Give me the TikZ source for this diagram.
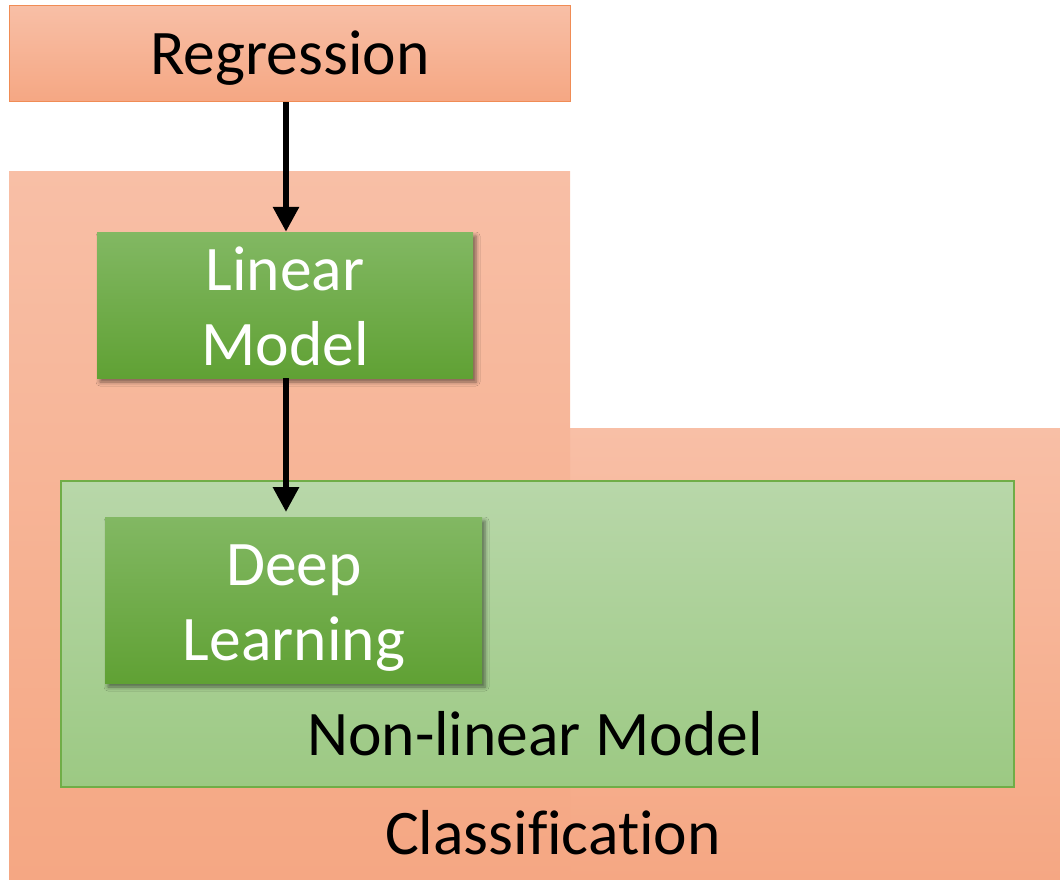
\documentclass[tikz,border=0pt]{standalone}
\usepackage{fontspec}
\setmainfont[Ligatures=NoCommon]{Carlito}
\usetikzlibrary{arrows.meta,shadows.blur}
\definecolor{peachtop}{RGB}{248,191,166}
\definecolor{peachbot}{RGB}{245,167,131}
\definecolor{peachline}{RGB}{240,140,85}
\definecolor{leaftop}{RGB}{130,184,99}
\definecolor{leafbot}{RGB}{96,161,52}
\definecolor{mosstop}{RGB}{184,215,169}
\definecolor{mossbot}{RGB}{156,201,131}
\definecolor{mossline}{RGB}{112,173,71}
\tikzset{
  txt/.style={font=\fontsize{63.5}{75}\selectfont, inner sep=0pt, align=center},
  peach/.style={shading=axis, top color=peachtop, bottom color=peachbot},
  modelbox/.style={rectangle, inner sep=0pt, shading=axis, top color=leaftop,
    bottom color=leafbot, text=white, txt,
    blur shadow={shadow xshift=3pt, shadow yshift=-4pt, shadow blur radius=4pt, shadow opacity=50}},
  flow/.style={line width=6pt, -{Triangle[width=25pt,length=25pt]}},
}
\begin{document}
\begin{tikzpicture}[x=1pt,y=-1pt]
\useasboundingbox (0,0) rectangle (1060,880);
% classification region: tall left part and wide lower right part
\path[peach] (570,428) rectangle (1060,880);
\path[peach] (9,171) rectangle (570,880);
\node[txt] (cls) at (553,833) {Classification};
% regression box
\node[rectangle, peach, draw=peachline, line width=1pt, inner sep=0pt,
  minimum width=561pt, minimum height=96pt] (reg) at (289.5,54) {};
\node[txt] (regtxt) at (290,58) {Regression};
% non-linear model region
\node[rectangle, inner sep=0pt, shading=axis, top color=mosstop, bottom color=mossbot,
  draw=mossline, line width=1.2pt, minimum width=953pt, minimum height=306pt] (nonlin) at (537.5,634) {};
\node[txt] (nonlintxt) at (535,734) {Non-linear Model};
% model boxes
\node[modelbox, minimum width=376pt, minimum height=146pt] (lin) at (285,305) {};
\node[txt, text=white] (lintxt) at (285,306) {Linear\\Model};
\node[modelbox, minimum width=377pt, minimum height=166pt] (deep) at (293.5,600) {};
\node[txt, text=white] (deeptxt) at (294,608) {Deep\\Learning};
% connectors
\coordinate (deeptip) at (286,512);
\draw[flow] (reg.south -| 286,0) -- (lin.north -| 286,0);
\draw[flow] (lin.south -| 286,0) -- (deeptip);
\end{tikzpicture}
\end{document}
